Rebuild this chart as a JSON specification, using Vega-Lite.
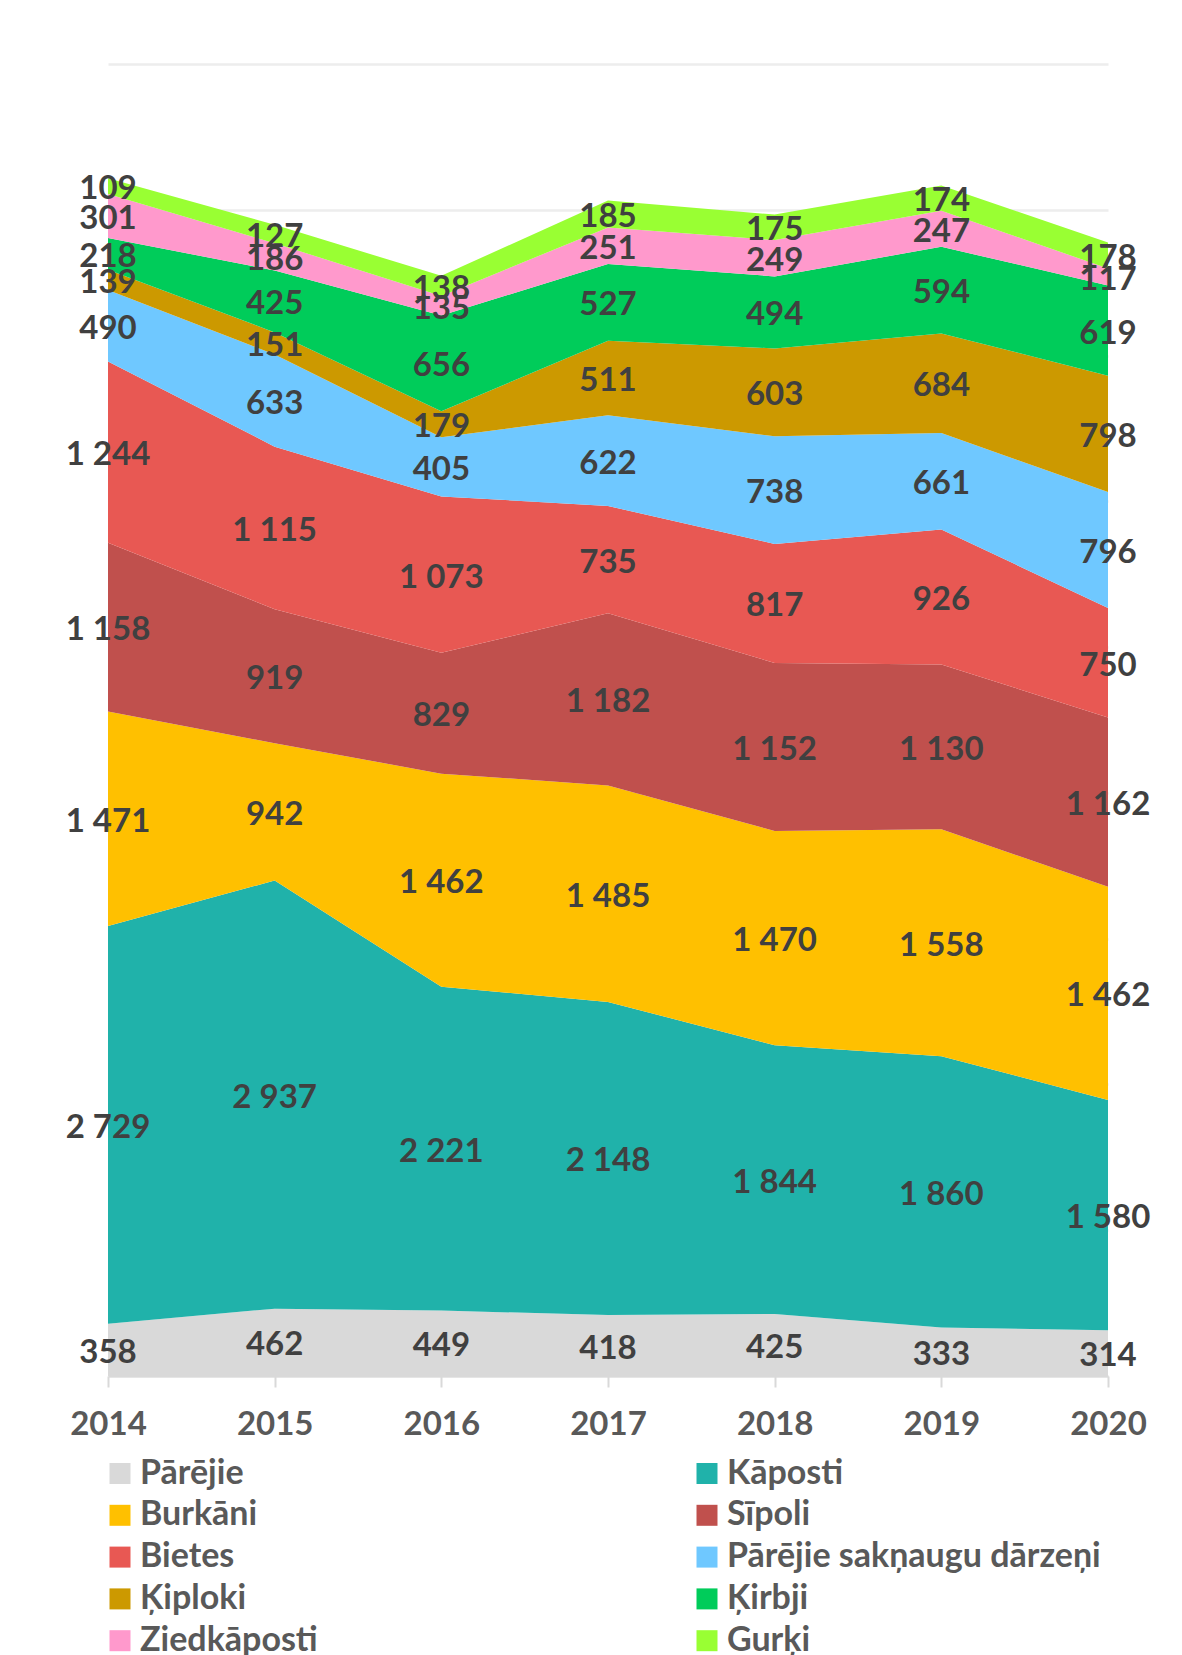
{
  "$schema": "https://vega.github.io/schema/vega-lite/v6.json",
  "width": 1000,
  "height": 1312,
  "autosize": {"type": "none"},
  "padding": {"left": 108, "top": 64, "right": 74, "bottom": 279},
  "background": "white",
  "config": {
    "locale": {"number": {"decimal": ",", "thousands": " ", "grouping": [3], "currency": ["", " €"]}},
    "view": {"stroke": null}
  },
  "data": {
    "values": [
      {"year": "2014", "series": "Pārējie", "ord": 1, "value": 358},
      {"year": "2014", "series": "Kāposti", "ord": 2, "value": 2729},
      {"year": "2014", "series": "Burkāni", "ord": 3, "value": 1471},
      {"year": "2014", "series": "Sīpoli", "ord": 4, "value": 1158},
      {"year": "2014", "series": "Bietes", "ord": 5, "value": 1244},
      {"year": "2014", "series": "Pārējie sakņaugu dārzeņi", "ord": 6, "value": 490},
      {"year": "2014", "series": "Ķiploki", "ord": 7, "value": 139},
      {"year": "2014", "series": "Ķirbji", "ord": 8, "value": 218},
      {"year": "2014", "series": "Ziedkāposti", "ord": 9, "value": 301},
      {"year": "2014", "series": "Gurķi", "ord": 10, "value": 109},
      {"year": "2015", "series": "Pārējie", "ord": 1, "value": 462},
      {"year": "2015", "series": "Kāposti", "ord": 2, "value": 2937},
      {"year": "2015", "series": "Burkāni", "ord": 3, "value": 942},
      {"year": "2015", "series": "Sīpoli", "ord": 4, "value": 919},
      {"year": "2015", "series": "Bietes", "ord": 5, "value": 1115},
      {"year": "2015", "series": "Pārējie sakņaugu dārzeņi", "ord": 6, "value": 633},
      {"year": "2015", "series": "Ķiploki", "ord": 7, "value": 151},
      {"year": "2015", "series": "Ķirbji", "ord": 8, "value": 425},
      {"year": "2015", "series": "Ziedkāposti", "ord": 9, "value": 186},
      {"year": "2015", "series": "Gurķi", "ord": 10, "value": 127},
      {"year": "2016", "series": "Pārējie", "ord": 1, "value": 449},
      {"year": "2016", "series": "Kāposti", "ord": 2, "value": 2221},
      {"year": "2016", "series": "Burkāni", "ord": 3, "value": 1462},
      {"year": "2016", "series": "Sīpoli", "ord": 4, "value": 829},
      {"year": "2016", "series": "Bietes", "ord": 5, "value": 1073},
      {"year": "2016", "series": "Pārējie sakņaugu dārzeņi", "ord": 6, "value": 405},
      {"year": "2016", "series": "Ķiploki", "ord": 7, "value": 179},
      {"year": "2016", "series": "Ķirbji", "ord": 8, "value": 656},
      {"year": "2016", "series": "Ziedkāposti", "ord": 9, "value": 135},
      {"year": "2016", "series": "Gurķi", "ord": 10, "value": 138},
      {"year": "2017", "series": "Pārējie", "ord": 1, "value": 418},
      {"year": "2017", "series": "Kāposti", "ord": 2, "value": 2148},
      {"year": "2017", "series": "Burkāni", "ord": 3, "value": 1485},
      {"year": "2017", "series": "Sīpoli", "ord": 4, "value": 1182},
      {"year": "2017", "series": "Bietes", "ord": 5, "value": 735},
      {"year": "2017", "series": "Pārējie sakņaugu dārzeņi", "ord": 6, "value": 622},
      {"year": "2017", "series": "Ķiploki", "ord": 7, "value": 511},
      {"year": "2017", "series": "Ķirbji", "ord": 8, "value": 527},
      {"year": "2017", "series": "Ziedkāposti", "ord": 9, "value": 251},
      {"year": "2017", "series": "Gurķi", "ord": 10, "value": 185},
      {"year": "2018", "series": "Pārējie", "ord": 1, "value": 425},
      {"year": "2018", "series": "Kāposti", "ord": 2, "value": 1844},
      {"year": "2018", "series": "Burkāni", "ord": 3, "value": 1470},
      {"year": "2018", "series": "Sīpoli", "ord": 4, "value": 1152},
      {"year": "2018", "series": "Bietes", "ord": 5, "value": 817},
      {"year": "2018", "series": "Pārējie sakņaugu dārzeņi", "ord": 6, "value": 738},
      {"year": "2018", "series": "Ķiploki", "ord": 7, "value": 603},
      {"year": "2018", "series": "Ķirbji", "ord": 8, "value": 494},
      {"year": "2018", "series": "Ziedkāposti", "ord": 9, "value": 249},
      {"year": "2018", "series": "Gurķi", "ord": 10, "value": 175},
      {"year": "2019", "series": "Pārējie", "ord": 1, "value": 333},
      {"year": "2019", "series": "Kāposti", "ord": 2, "value": 1860},
      {"year": "2019", "series": "Burkāni", "ord": 3, "value": 1558},
      {"year": "2019", "series": "Sīpoli", "ord": 4, "value": 1130},
      {"year": "2019", "series": "Bietes", "ord": 5, "value": 926},
      {"year": "2019", "series": "Pārējie sakņaugu dārzeņi", "ord": 6, "value": 661},
      {"year": "2019", "series": "Ķiploki", "ord": 7, "value": 684},
      {"year": "2019", "series": "Ķirbji", "ord": 8, "value": 594},
      {"year": "2019", "series": "Ziedkāposti", "ord": 9, "value": 247},
      {"year": "2019", "series": "Gurķi", "ord": 10, "value": 174},
      {"year": "2020", "series": "Pārējie", "ord": 1, "value": 314},
      {"year": "2020", "series": "Kāposti", "ord": 2, "value": 1580},
      {"year": "2020", "series": "Burkāni", "ord": 3, "value": 1462},
      {"year": "2020", "series": "Sīpoli", "ord": 4, "value": 1162},
      {"year": "2020", "series": "Bietes", "ord": 5, "value": 750},
      {"year": "2020", "series": "Pārējie sakņaugu dārzeņi", "ord": 6, "value": 796},
      {"year": "2020", "series": "Ķiploki", "ord": 7, "value": 798},
      {"year": "2020", "series": "Ķirbji", "ord": 8, "value": 619},
      {"year": "2020", "series": "Ziedkāposti", "ord": 9, "value": 117},
      {"year": "2020", "series": "Gurķi", "ord": 10, "value": 178}
    ]
  },
  "encoding": {
    "x": {
      "field": "year",
      "type": "ordinal",
      "scale": {"type": "point", "padding": 0},
      "axis": {
        "title": null,
        "labelAngle": 0,
        "labelFont": "Lato",
        "labelFontWeight": "bold",
        "labelFontSize": 33,
        "labelColor": "#595959",
        "labelBaseline": "alphabetic",
        "labelPadding": 47,
        "tickSize": 11,
        "tickColor": "#d9d9d9",
        "tickWidth": 2,
        "domainColor": "#d9d9d9",
        "domainWidth": 2,
        "grid": false
      }
    }
  },
  "layer": [
    {
      "mark": {"type": "area", "opacity": 1},
      "encoding": {
        "y": {
          "field": "value",
          "type": "quantitative",
          "stack": "zero",
          "scale": {"domain": [0, 9000], "nice": false},
          "axis": {
            "title": null,
            "labels": false,
            "ticks": false,
            "domain": false,
            "grid": true,
            "gridColor": "#ededed",
            "gridWidth": 2.5,
            "values": [0, 1000, 2000, 3000, 4000, 5000, 6000, 7000, 8000, 9000]
          }
        },
        "color": {
          "field": "series",
          "type": "nominal",
          "scale": {
            "domain": ["Pārējie", "Burkāni", "Bietes", "Ķiploki", "Ziedkāposti", "Kāposti", "Sīpoli", "Pārējie sakņaugu dārzeņi", "Ķirbji", "Gurķi"],
            "range": ["#d9d9d9", "#ffc000", "#e85853", "#cc9900", "#ff99cc", "#20b2aa", "#c0504d", "#6fc8ff", "#00cc5a", "#99ff33"]
          },
          "legend": {
            "orient": "none",
            "legendX": -5,
            "legendY": 1392.5,
            "columns": 2,
            "title": null,
            "padding": 0,
            "symbolType": "square",
            "symbolSize": 441,
            "symbolStrokeWidth": 0,
            "symbolOpacity": 1,
            "labelFont": "Lato",
            "labelFontWeight": "bold",
            "labelFontSize": 34,
            "labelColor": "#595959",
            "labelOffset": 3,
            "labelLimit": 700,
            "rowPadding": 7.8,
            "columnPadding": 176,
            "gridAlign": "all"
          }
        },
        "order": {"field": "ord", "type": "quantitative"}
      }
    },
    {
      "transform": [
        {"stack": "value", "groupby": ["year"], "sort": [{"field": "ord", "order": "ascending"}], "as": ["v0", "v1"]},
        {"calculate": "(datum.v0 + datum.v1) / 2", "as": "mid"}
      ],
      "mark": {"type": "text", "font": "Lato", "fontWeight": "bold", "fontSize": 33, "color": "#404040", "baseline": "middle", "align": "center", "dy": 3},
      "encoding": {
        "y": {"field": "mid", "type": "quantitative"},
        "text": {"field": "value", "type": "quantitative", "format": ",d"}
      }
    }
  ]
}
